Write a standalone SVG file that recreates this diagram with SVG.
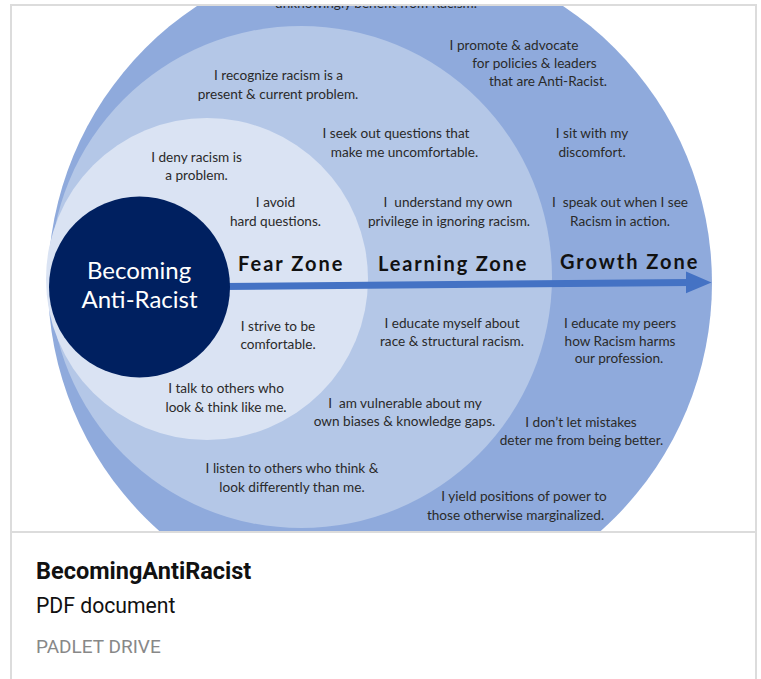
<svg xmlns="http://www.w3.org/2000/svg" width="761" height="679" viewBox="0 0 761 679">
<style>
.t{font-family:Lato,"Open Sans","Liberation Sans",sans-serif;font-size:13.6px;fill:#2a2a2a;text-anchor:middle}
.z{font-family:Lato,"Noto Sans","Liberation Sans",sans-serif;font-size:20px;font-weight:bold;fill:#111;letter-spacing:0.6px}
.c{font-family:Lato,"Noto Sans","Liberation Sans",sans-serif;font-size:24px;fill:#fff;text-anchor:middle}
.card{font-family:Roboto,"Liberation Sans",sans-serif}
</style>
<defs>
<clipPath id="clip"><rect x="12" y="6" width="743" height="525"/></clipPath>
</defs>
<rect x="0" y="0" width="761" height="679" fill="#fff"/>
<g clip-path="url(#clip)">
<g id="growth-zone"><circle cx="380" cy="283" r="332" fill="#8FAADC"/></g>
<g id="learning-zone"><circle cx="301" cy="277" r="251" fill="#B4C7E7"/></g>
<g id="fear-zone"><circle cx="207" cy="279" r="161" fill="#DAE3F3"/></g>
<g id="connectors">
<line x1="222" y1="286.6" x2="690" y2="282.4" stroke="#4472C4" stroke-width="7"/>
<polygon points="686,271.5 711.5,282.4 686,293.3" fill="#4472C4"/>
</g>
<g id="center">
<circle cx="139.5" cy="287" r="90.5" fill="#002060"/>
<text class="c" x="139" y="279">Becoming</text>
<text class="c" x="139.5" y="308">Anti-Racist</text>
</g>
<g id="zone-labels">
<text class="z" x="238" y="271" textLength="105">Fear Zone</text>
<text class="z" x="378" y="271" textLength="149">Learning Zone</text>
<text class="z" x="560" y="269" textLength="138">Growth Zone</text>
</g>
<g id="fear-notes">
<text class="t" x="196.5" y="162">I deny racism is</text>
<text class="t" x="196.5" y="180">a problem.</text>
<text class="t" x="275.5" y="207">I avoid</text>
<text class="t" x="275.5" y="226">hard questions.</text>
<text class="t" x="278" y="331">I strive to be</text>
<text class="t" x="278" y="349">comfortable.</text>
<text class="t" x="226" y="393">I talk to others who</text>
<text class="t" x="226" y="412">look &amp; think like me.</text>
</g>
<g id="learning-notes">
<text class="t" x="278.5" y="80">I recognize racism is a</text>
<text class="t" x="278" y="99">present &amp; current problem.</text>
<text class="t" x="396" y="138">I seek out questions that</text>
<text class="t" x="404.5" y="157">make me uncomfortable.</text>
<text class="t" x="448" y="207" xml:space="preserve">I  understand my own</text>
<text class="t" x="449" y="226">privilege in ignoring racism.</text>
<text class="t" x="452" y="328">I educate myself about</text>
<text class="t" x="452" y="346">race &amp; structural racism.</text>
<text class="t" x="405" y="408" xml:space="preserve">I  am vulnerable about my</text>
<text class="t" x="404.5" y="426">own biases &amp; knowledge gaps.</text>
<text class="t" x="292" y="473">I listen to others who think &amp;</text>
<text class="t" x="292" y="492">look differently than me.</text>
</g>
<g id="growth-notes">
<text class="t" x="376" y="8">unknowingly benefit from Racism.</text>
<text class="t" x="514" y="50">I promote &amp; advocate</text>
<text class="t" x="534.5" y="68">for policies &amp; leaders</text>
<text class="t" x="548" y="86">that are Anti-Racist.</text>
<text class="t" x="592" y="138">I sit with my</text>
<text class="t" x="592" y="157">discomfort.</text>
<text class="t" x="620" y="207" xml:space="preserve">I  speak out when I see</text>
<text class="t" x="620" y="226">Racism in action.</text>
<text class="t" x="620" y="328">I educate my peers</text>
<text class="t" x="620" y="346">how Racism harms</text>
<text class="t" x="619" y="363">our profession.</text>
<text class="t" x="581" y="427">I don’t let mistakes</text>
<text class="t" x="581.5" y="445">deter me from being better.</text>
<text class="t" x="524" y="501">I yield positions of power to</text>
<text class="t" x="515.5" y="520">those otherwise marginalized.</text>
</g>
</g>
<g id="card">
<rect x="11" y="5" width="745" height="700" fill="none" stroke="#DCDCDC" stroke-width="2"/>
<line x1="11" y1="532" x2="756" y2="532" stroke="#DCDCDC" stroke-width="2"/>
<text class="card" x="36" y="579" font-size="23.5" font-weight="bold" fill="#111">BecomingAntiRacist</text>
<text class="card" x="36" y="613" font-size="21.2" fill="#111">PDF document</text>
<text class="card" x="36" y="653" font-size="19" fill="#888">PADLET DRIVE</text>
</g>
</svg>
